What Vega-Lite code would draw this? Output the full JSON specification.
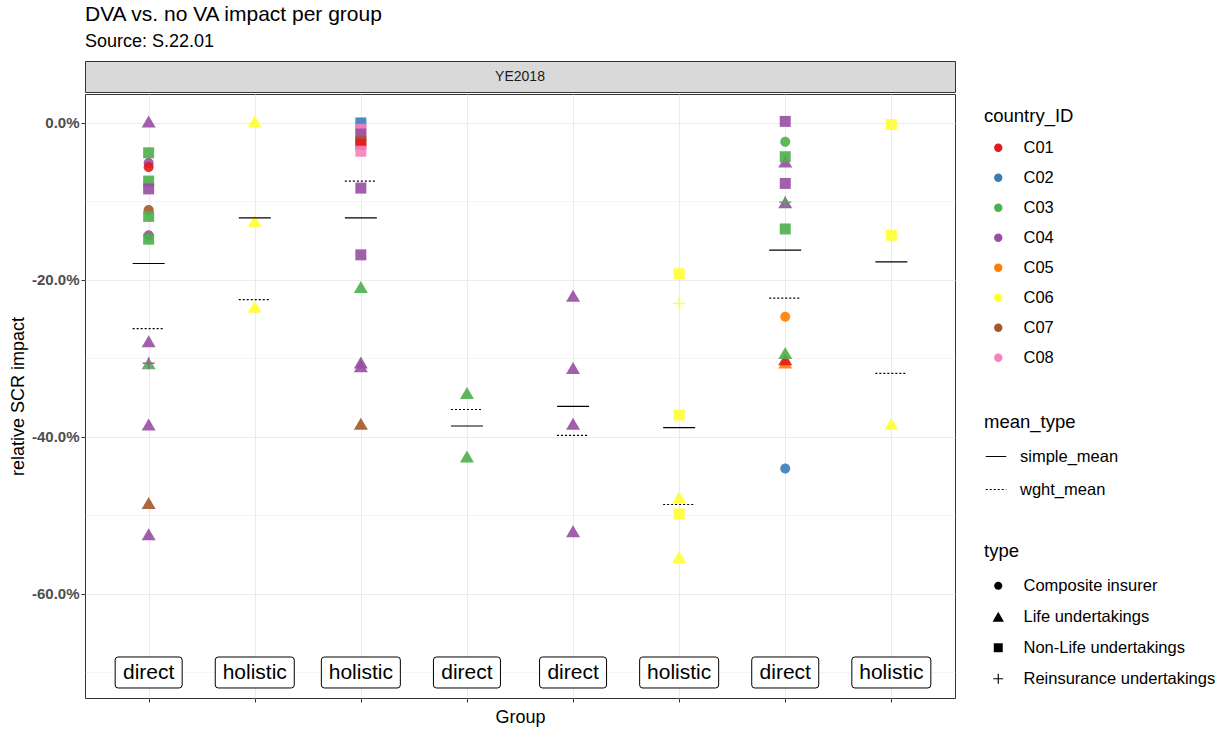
{
  "$schema": "https://vega.github.io/schema/vega-lite/v6.json",
  "autosize": {"type": "pad"},
  "padding": {"left": 8, "top": 3, "right": 0, "bottom": 0},
  "title": {
    "text": "DVA vs. no VA impact per group",
    "subtitle": "Source: S.22.01",
    "anchor": "start",
    "frame": "group",
    "font": "Liberation Sans",
    "fontSize": 21,
    "fontWeight": "normal",
    "color": "#000000",
    "subtitleFont": "Liberation Sans",
    "subtitleFontSize": 18,
    "subtitleColor": "#000000",
    "subtitlePadding": 8,
    "offset": 10
  },
  "datasets": {
    "pts": [
      {"g": "G1", "c": "C04", "t": "Life undertakings", "v": 0.002},
      {"g": "G1", "c": "C03", "t": "Non-Life undertakings", "v": -0.038},
      {"g": "G1", "c": "C04", "t": "Composite insurer", "v": -0.051},
      {"g": "G1", "c": "C01", "t": "Composite insurer", "v": -0.056},
      {"g": "G1", "c": "C03", "t": "Non-Life undertakings", "v": -0.074},
      {"g": "G1", "c": "C04", "t": "Non-Life undertakings", "v": -0.084},
      {"g": "G1", "c": "C07", "t": "Composite insurer", "v": -0.111},
      {"g": "G1", "c": "C03", "t": "Non-Life undertakings", "v": -0.119},
      {"g": "G1", "c": "C04", "t": "Composite insurer", "v": -0.143},
      {"g": "G1", "c": "C03", "t": "Non-Life undertakings", "v": -0.148},
      {"g": "G1", "c": "C04", "t": "Life undertakings", "v": -0.278},
      {"g": "G1", "c": "C03", "t": "Life undertakings", "v": -0.306},
      {"g": "G1", "c": "C04", "t": "Reinsurance undertakings", "v": -0.306},
      {"g": "G1", "c": "C04", "t": "Life undertakings", "v": -0.384},
      {"g": "G1", "c": "C07", "t": "Life undertakings", "v": -0.484},
      {"g": "G1", "c": "C04", "t": "Life undertakings", "v": -0.524},
      {"g": "G2", "c": "C06", "t": "Life undertakings", "v": 0.002},
      {"g": "G2", "c": "C06", "t": "Life undertakings", "v": -0.125},
      {"g": "G2", "c": "C06", "t": "Life undertakings", "v": -0.234},
      {"g": "G3", "c": "C02", "t": "Non-Life undertakings", "v": 0.0},
      {"g": "G3", "c": "C08", "t": "Non-Life undertakings", "v": -0.008},
      {"g": "G3", "c": "C04", "t": "Non-Life undertakings", "v": -0.014},
      {"g": "G3", "c": "C07", "t": "Non-Life undertakings", "v": -0.023},
      {"g": "G3", "c": "C01", "t": "Non-Life undertakings", "v": -0.027},
      {"g": "G3", "c": "C08", "t": "Non-Life undertakings", "v": -0.036},
      {"g": "G3", "c": "C04", "t": "Non-Life undertakings", "v": -0.083},
      {"g": "G3", "c": "C04", "t": "Non-Life undertakings", "v": -0.168},
      {"g": "G3", "c": "C03", "t": "Life undertakings", "v": -0.209},
      {"g": "G3", "c": "C04", "t": "Life undertakings", "v": -0.305},
      {"g": "G3", "c": "C04", "t": "Life undertakings", "v": -0.31},
      {"g": "G3", "c": "C07", "t": "Life undertakings", "v": -0.383},
      {"g": "G4", "c": "C03", "t": "Life undertakings", "v": -0.344},
      {"g": "G4", "c": "C03", "t": "Life undertakings", "v": -0.425},
      {"g": "G5", "c": "C04", "t": "Life undertakings", "v": -0.22},
      {"g": "G5", "c": "C04", "t": "Life undertakings", "v": -0.312},
      {"g": "G5", "c": "C04", "t": "Life undertakings", "v": -0.383},
      {"g": "G5", "c": "C04", "t": "Life undertakings", "v": -0.52},
      {"g": "G6", "c": "C06", "t": "Non-Life undertakings", "v": -0.192},
      {"g": "G6", "c": "C06", "t": "Reinsurance undertakings", "v": -0.23},
      {"g": "G6", "c": "C06", "t": "Non-Life undertakings", "v": -0.372},
      {"g": "G6", "c": "C06", "t": "Life undertakings", "v": -0.477},
      {"g": "G6", "c": "C06", "t": "Non-Life undertakings", "v": -0.498},
      {"g": "G6", "c": "C06", "t": "Life undertakings", "v": -0.553},
      {"g": "G7", "c": "C04", "t": "Non-Life undertakings", "v": 0.002},
      {"g": "G7", "c": "C03", "t": "Composite insurer", "v": -0.024},
      {"g": "G7", "c": "C04", "t": "Life undertakings", "v": -0.049},
      {"g": "G7", "c": "C03", "t": "Non-Life undertakings", "v": -0.043},
      {"g": "G7", "c": "C04", "t": "Non-Life undertakings", "v": -0.077},
      {"g": "G7", "c": "C04", "t": "Life undertakings", "v": -0.101},
      {"g": "G7", "c": "C03", "t": "Reinsurance undertakings", "v": -0.101},
      {"g": "G7", "c": "C03", "t": "Non-Life undertakings", "v": -0.135},
      {"g": "G7", "c": "C05", "t": "Composite insurer", "v": -0.247},
      {"g": "G7", "c": "C05", "t": "Life undertakings", "v": -0.305},
      {"g": "G7", "c": "C01", "t": "Life undertakings", "v": -0.301},
      {"g": "G7", "c": "C03", "t": "Life undertakings", "v": -0.293},
      {"g": "G7", "c": "C02", "t": "Composite insurer", "v": -0.44},
      {"g": "G8", "c": "C06", "t": "Non-Life undertakings", "v": -0.002},
      {"g": "G8", "c": "C06", "t": "Non-Life undertakings", "v": -0.143},
      {"g": "G8", "c": "C06", "t": "Life undertakings", "v": -0.383}
    ],
    "means": [
      {"g": "G1", "m": "simple_mean", "v": -0.179},
      {"g": "G1", "m": "wght_mean", "v": -0.262},
      {"g": "G2", "m": "simple_mean", "v": -0.121},
      {"g": "G2", "m": "wght_mean", "v": -0.225},
      {"g": "G3", "m": "simple_mean", "v": -0.121},
      {"g": "G3", "m": "wght_mean", "v": -0.074},
      {"g": "G4", "m": "simple_mean", "v": -0.386},
      {"g": "G4", "m": "wght_mean", "v": -0.365},
      {"g": "G5", "m": "simple_mean", "v": -0.361},
      {"g": "G5", "m": "wght_mean", "v": -0.398},
      {"g": "G6", "m": "simple_mean", "v": -0.388},
      {"g": "G6", "m": "wght_mean", "v": -0.486},
      {"g": "G7", "m": "simple_mean", "v": -0.162},
      {"g": "G7", "m": "wght_mean", "v": -0.223},
      {"g": "G8", "m": "simple_mean", "v": -0.177},
      {"g": "G8", "m": "wght_mean", "v": -0.319}
    ],
    "labels": [
      {"g": "G1", "label": "direct"},
      {"g": "G2", "label": "holistic"},
      {"g": "G3", "label": "holistic"},
      {"g": "G4", "label": "direct"},
      {"g": "G5", "label": "direct"},
      {"g": "G6", "label": "holistic"},
      {"g": "G7", "label": "direct"},
      {"g": "G8", "label": "holistic"}
    ]
  },
  "spacing": 0,
  "vconcat": [
    {
      "width": 870,
      "height": 31,
      "data": {"values": [{"strip": "YE2018"}]},
      "view": {"fill": "#D9D9D9", "stroke": "#333333"},
      "mark": {"type": "text", "fontSize": 14, "color": "#1A1A1A", "font": "Liberation Sans"},
      "encoding": {"text": {"field": "strip"}}
    },
    {
      "width": 870,
      "height": 604,
      "layer": [
        {
          "data": {"name": "pts"},
          "mark": {"type": "point", "filled": true, "opacity": 0.9, "size": 196},
          "encoding": {
            "x": {
              "field": "g", "type": "nominal",
              "scale": {"type": "point", "padding": 0.6},
              "axis": {"title": "Group", "labels": false, "grid": true, "gridWidth": 1, "titlePadding": 6}
            },
            "y": {
              "field": "v", "type": "quantitative",
              "scale": {"domain": [-0.7325, 0.0369], "nice": false, "zero": false},
              "axis": {
                "title": "relative SCR impact",
                "values": [0, -0.1, -0.2, -0.3, -0.4, -0.5, -0.6, -0.7],
                "labelExpr": "abs(round(datum.value*10))%2==1 ? '' : replace(format(datum.value, '.1%'), '\u2212', '-')",
                "tickOpacity": {"condition": {"test": "abs(round(datum.value*10))%2==1", "value": 0}, "value": 1},
                "gridWidth": {"condition": {"test": "abs(round(datum.value*10))%2==1", "value": 0.5}, "value": 1},
                "titlePadding": 4
              }
            },
            "color": {
              "field": "c", "type": "nominal",
              "scale": {
                "domain": ["C01", "C02", "C03", "C04", "C05", "C06", "C07", "C08"],
                "range": ["#E41A1C", "#377EB8", "#4DAF4A", "#984EA3", "#FF7F00", "#FFFF33", "#A65628", "#F781BF"]
              },
              "legend": {"title": "country_ID", "orient": "none", "legendX": 899, "legendY": 46, "symbolType": "circle", "symbolSize": 70, "symbolOpacity": 1, "labelOffset": 17}
            },
            "shape": {
              "field": "t", "type": "nominal",
              "scale": {
                "domain": ["Composite insurer", "Life undertakings", "Non-Life undertakings", "Reinsurance undertakings"],
                "range": [
                  "M-0.714,0A0.714,0.714 0 1,0 0.714,0A0.714,0.714 0 1,0 -0.714,0Z",
                  "M0,-0.857L1,0.857L-1,0.857Z",
                  "M-0.786,-0.786H0.786V0.786H-0.786Z",
                  "M-0.86,-0.1H0.86V0.1H-0.86Z M-0.1,-0.86H0.1V0.86H-0.1Z"
                ]
              },
              "legend": {"title": "type", "orient": "none", "legendX": 899, "legendY": 481, "titlePadding": 17, "rowPadding": 14, "symbolFillColor": "#000000", "symbolStrokeColor": "#000000", "symbolStrokeWidth": 0, "symbolSize": 130, "symbolOpacity": 1, "labelOffset": 17, "labelLimit": 400}
            }
          }
        },
        {
          "data": {"name": "means"},
          "mark": {"type": "rule", "color": "#000000", "strokeWidth": 1.2, "xOffset": -16, "x2Offset": 16},
          "encoding": {
            "x": {"field": "g", "type": "nominal"},
            "x2": {"field": "g"},
            "y": {"field": "v", "type": "quantitative"},
            "strokeDash": {
              "field": "m", "type": "nominal",
              "scale": {"domain": ["simple_mean", "wght_mean"], "range": [[1, 0], [2, 2]]},
              "legend": {"title": "mean_type", "orient": "none", "legendX": 899, "legendY": 352, "symbolType": "stroke", "symbolSize": 420, "symbolStrokeWidth": 1.2, "symbolStrokeColor": "#000000", "symbolOffset": 1, "labelOffset": 13}
            }
          }
        },
        {
          "data": {"name": "labels"},
          "transform": [{"filter": "datum.label == 'direct'"}],
          "mark": {
            "type": "point", "filled": true, "fill": "#FFFFFF", "stroke": "#000000", "strokeWidth": 1, "opacity": 1, "size": 4489,
            "shape": "M-0.91,-0.463H0.91Q1,-0.463 1,-0.373V0.373Q1,0.463 0.91,0.463H-0.91Q-1,0.463 -1,0.373V-0.373Q-1,-0.463 -0.91,-0.463Z"
          },
          "encoding": {
            "x": {"field": "g", "type": "nominal"},
            "y": {"datum": -0.7}
          }
        },
        {
          "data": {"name": "labels"},
          "transform": [{"filter": "datum.label == 'holistic'"}],
          "mark": {
            "type": "point", "filled": true, "fill": "#FFFFFF", "stroke": "#000000", "strokeWidth": 1, "opacity": 1, "size": 6241,
            "shape": "M-0.924,-0.392H0.924Q1,-0.392 1,-0.316V0.316Q1,0.392 0.924,0.392H-0.924Q-1,0.392 -1,0.316V-0.316Q-1,-0.392 -0.924,-0.392Z"
          },
          "encoding": {
            "x": {"field": "g", "type": "nominal"},
            "y": {"datum": -0.7}
          }
        },
        {
          "data": {"name": "labels"},
          "mark": {"type": "text", "fontSize": 21, "font": "Liberation Sans", "color": "#000000", "baseline": "middle", "dy": 1},
          "encoding": {
            "x": {"field": "g", "type": "nominal"},
            "y": {"datum": -0.7},
            "text": {"field": "label"}
          }
        }
      ]
    }
  ],
  "config": {
    "font": "Liberation Sans",
    "background": "#FFFFFF",
    "view": {"stroke": "#333333", "strokeWidth": 1},
    "axis": {
      "domain": false,
      "gridColor": "#EBEBEB",
      "tickColor": "#333333",
      "tickSize": 4,
      "labelFont": "Liberation Sans",
      "labelFontSize": 15,
      "labelFontWeight": "bold",
      "labelColor": "#4D4D4D",
      "labelPadding": 2,
      "titleFont": "Liberation Sans",
      "titleFontSize": 18,
      "titleFontWeight": "normal",
      "titleColor": "#000000"
    },
    "legend": {
      "padding": 0,
      "titleFont": "Liberation Sans",
      "titleFontSize": 18.5,
      "titleFontWeight": "normal",
      "titleColor": "#000000",
      "titlePadding": 14,
      "labelFont": "Liberation Sans",
      "labelFontSize": 16.5,
      "labelColor": "#000000",
      "labelOffset": 20,
      "labelLimit": 400,
      "rowPadding": 13,
      "symbolOffset": 6
    }
  }
}
